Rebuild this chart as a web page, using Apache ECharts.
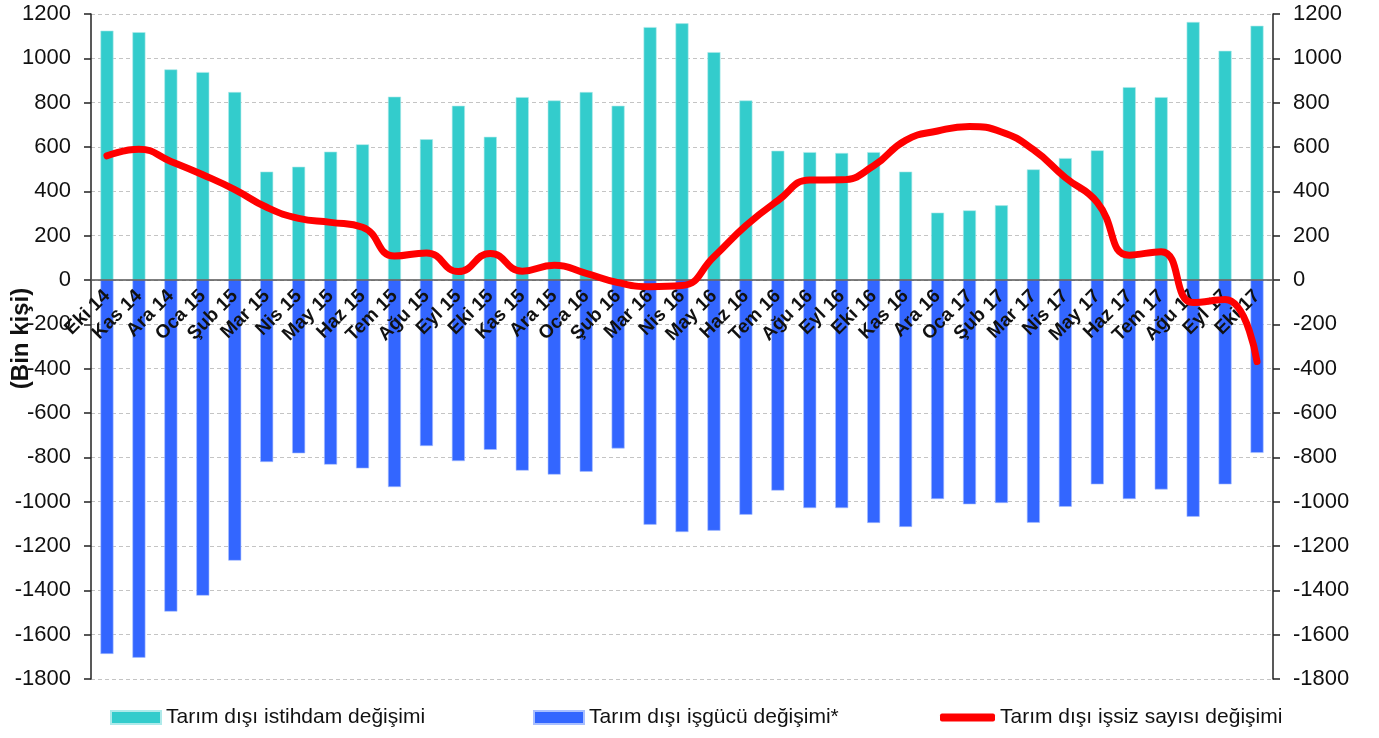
<!DOCTYPE html>
<html>
<head>
<meta charset="utf-8">
<script src="https://cdn.jsdelivr.net/npm/echarts@6/dist/echarts.min.js"></script>
<style>
html,body{margin:0;padding:0;background:#fff;}
#chart{width:1379px;height:738px;}
</style>
</head>
<body>
<div id="chart"></div>
<script>
const categories = ['Eki 14','Kas 14','Ara 14','Oca 15','Şub 15','Mar 15','Nis 15','May 15','Haz 15','Tem 15','Ağu 15','Eyl 15','Eki 15','Kas 15','Ara 15','Oca 16','Şub 16','Mar 16','Nis 16','May 16','Haz 16','Tem 16','Ağu 16','Eyl 16','Eki 16','Kas 16','Ara 16','Oca 17','Şub 17','Mar 17','Nis 17','May 17','Haz 17','Tem 17','Ağu 17','Eyl 17','Eki 17'];
const istihdam = [1125,1118,950,938,848,489,511,579,612,827,635,786,646,825,810,848,786,1141,1158,1028,810,583,577,573,577,489,304,314,337,499,550,585,870,825,1164,1034,1147];
const isgucu = [-1687,-1704,-1496,-1424,-1266,-821,-782,-833,-850,-934,-749,-817,-766,-860,-878,-865,-760,-1104,-1137,-1131,-1059,-950,-1029,-1029,-1096,-1114,-988,-1012,-1006,-1095,-1023,-922,-988,-945,-1068,-922,-780];
const issiz = [560,590,535,475,408,328,278,260,238,108,122,38,120,40,66,30,-12,-30,-25,105,245,358,451,452,515,630,672,692,668,588,462,350,112,128,-102,-88,-368];
const yTicks = {min:-1800, max:1200, interval:200};
const names = ['Tarım dışı istihdam değişimi','Tarım dışı işgücü değişimi*','Tarım dışı işsiz sayısı değişimi'];

const chart = echarts.init(document.getElementById('chart'));
const fontFam = '"Liberation Sans", Arial, sans-serif';
const legendText = {fontSize:21, color:'#111', fontFamily:fontFam};
const gridTop = 14, gridBottom = 59, H = 738;
const plotH = H - gridTop - gridBottom;
const zeroOffset = -plotH * (0 - yTicks.min) / (yTicks.max - yTicks.min);
function yAxisCfg(pos, showSplit){
  return {
    type:'value', position:pos, min:yTicks.min, max:yTicks.max, interval:yTicks.interval,
    axisLine:{show:true, lineStyle:{color:'#222', width:1.5}},
    axisTick:{show:true, inside:false, length:7, lineStyle:{color:'#222', width:1.5}},
    axisLabel:{fontSize:22, color:'#111', fontFamily:fontFam, margin:20, formatter:(v)=>String(v)},
    splitLine:{show:showSplit, lineStyle:{color:'#c4c4c4', type:[4,3], width:1}}
  };
}
const yl = yAxisCfg('left', true);
yl.name = '(Bin kişi)';
yl.nameLocation = 'middle';
yl.nameRotate = 90;
yl.nameGap = 58;
yl.nameMoveOverlap = false;
yl.nameTextStyle = {fontSize:24, fontWeight:'bold', color:'#111', fontFamily:fontFam, padding:[0,0,0,16]};
const yr = yAxisCfg('right', false);

chart.setOption({
  animation:false,
  backgroundColor:'#fff',
  grid:{left:91, right:106, top:gridTop, bottom:gridBottom, containLabel:false, outerBoundsMode:'none'},
  legend:[
    {left:110, top:707, padding:0, data:[names[0]], itemWidth:50, itemHeight:13, textStyle:legendText, icon:'rect'},
    {left:533, top:707, padding:0, data:[names[1]], itemWidth:50, itemHeight:13, textStyle:legendText, icon:'rect'},
    {left:940, top:707, padding:0, data:[names[2]], itemWidth:55, itemHeight:8, textStyle:legendText, icon:'roundRect'}
  ],
  xAxis:{
    type:'category', data:categories, z:4, position:'bottom', offset:zeroOffset,
    axisLine:{show:true, onZero:false, lineStyle:{color:'#555', width:1.5}},
    axisTick:{show:false},
    axisLabel:{interval:0, rotate:45, margin:13, fontSize:19, fontWeight:'bold', color:'#111', fontFamily:fontFam},
    splitLine:{show:false}
  },
  yAxis:[yl, yr],
  series:[
    {name:names[0], type:'bar', data:istihdam, barWidth:13, barGap:'-100%', z:2,
     itemStyle:{color:'#33CCCC', borderColor:'#aeeaea', borderWidth:0.6}},
    {name:names[1], type:'bar', data:isgucu, barWidth:13, barGap:'-100%', z:2,
     itemStyle:{color:'#3366FF', borderColor:'#a9bfff', borderWidth:0.6}},
    {name:names[2], type:'line', data:issiz, smooth:0.5, showSymbol:false, symbol:'none', z:6,
     lineStyle:{color:'#FF0000', width:7, cap:'round', join:'round'}, itemStyle:{color:'#FF0000'}}
  ]
});
</script>
</body>
</html>
